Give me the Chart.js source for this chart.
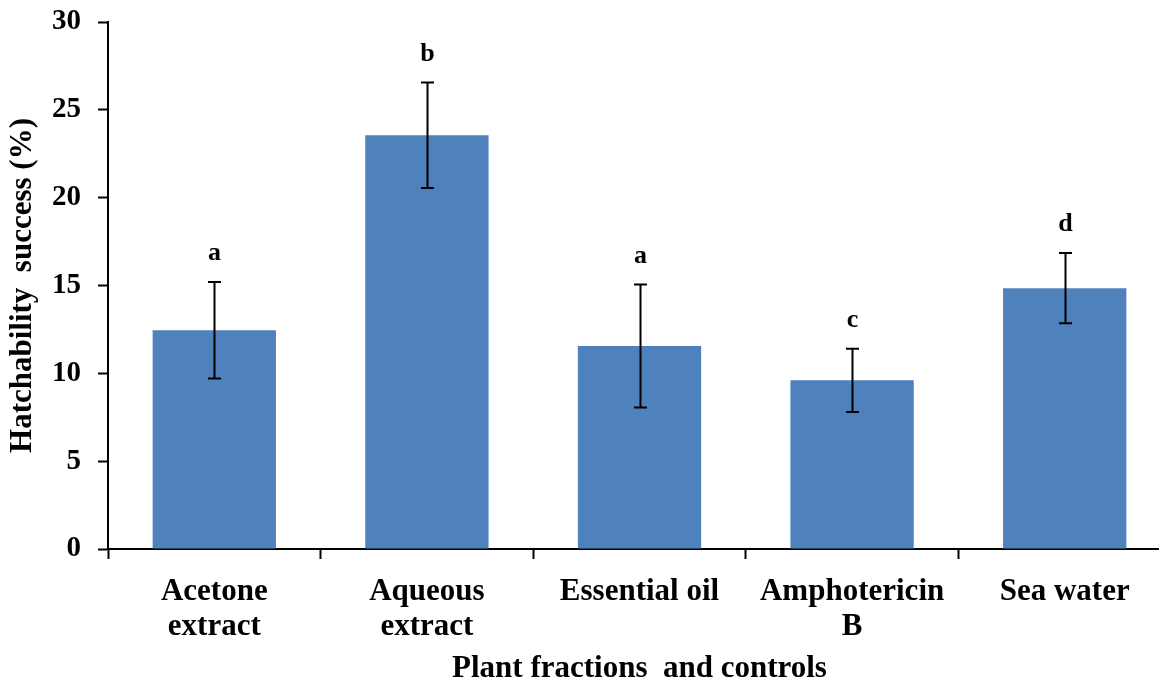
<!DOCTYPE html>
<html>
<head>
<meta charset="utf-8">
<script src="https://cdn.jsdelivr.net/npm/chart.js@4/dist/chart.umd.min.js"></script>
<style>
html,body{margin:0;padding:0;background:#fff;overflow:hidden;}
#wrap{width:1159px;height:685px;}
</style>
</head>
<body>
<div id="wrap"><canvas id="c" width="1159" height="685"></canvas></div>
<script>
const categories = [['Acetone','extract'], ['Aqueous','extract'], ['Essential oil'], ['Amphotericin','B'], ['Sea water']];
const hatchability = [12.45, 23.55, 11.55, 9.6, 14.85];
const errors = [2.75, 3.0, 3.5, 1.8, 2.0];
const letters = ['a', 'b', 'a', 'c', 'd'];
const yTicks = [0, 5, 10, 15, 20, 25, 30];

const FONT = "'Liberation Serif', 'Times New Roman', serif";

// Extend plot area like the reference (axis runs off the right edge, top at 30 mark)
const areaPlugin = {
  id: 'area',
  afterLayout(chart) {
    const x = chart.scales.x, y = chart.scales.y;
    x.right = 1171; x.width = x.right - x.left; x.configure();
    y.top = 22; y.height = y.bottom - y.top; y.configure();
    chart.chartArea.right = 1171; chart.chartArea.width = chart.chartArea.right - chart.chartArea.left;
    chart.chartArea.top = 22; chart.chartArea.height = chart.chartArea.bottom - chart.chartArea.top;
  }
};

const errPlugin = {
  id: 'errbars',
  afterDatasetsDraw(chart) {
    const ctx = chart.ctx;
    const meta = chart.getDatasetMeta(0);
    const y = chart.scales.y;
    ctx.save();
    ctx.strokeStyle = '#000';
    ctx.lineWidth = 2;
    ctx.fillStyle = '#000';
    ctx.font = 'bold 26px ' + FONT;
    ctx.textAlign = 'center';
    ctx.textBaseline = 'alphabetic';
    meta.data.forEach((bar, i) => {
      const x = Math.round(bar.x) + 0.5;
      const top = y.getPixelForValue(hatchability[i] + errors[i]);
      const bot = y.getPixelForValue(hatchability[i] - errors[i]);
      ctx.beginPath();
      ctx.moveTo(x, top); ctx.lineTo(x, bot);
      ctx.moveTo(x - 6.5, top); ctx.lineTo(x + 6.5, top);
      ctx.moveTo(x - 6.5, bot); ctx.lineTo(x + 6.5, bot);
      ctx.stroke();
      ctx.fillText(letters[i], x, top - 22);
    });
    ctx.restore();
  }
};

new Chart(document.getElementById('c'), {
  type: 'bar',
  data: {
    labels: categories,
    datasets: [{
      data: hatchability,
      backgroundColor: '#4F81BD',
      borderWidth: 0,
      categoryPercentage: 0.58,
      barPercentage: 1.0
    }]
  },
  options: {
    responsive: false,
    animation: false,
    devicePixelRatio: 1,
    layout: { padding: { left: 0, right: 0, top: 22, bottom: 0 } },
    plugins: { legend: { display: false }, tooltip: { enabled: false } },
    scales: {
      x: {
        offset: true,
        grid: { display: true, offset: true, drawOnChartArea: false, tickLength: 10, tickColor: '#000', tickWidth: 2 },
        border: { color: '#000', width: 2 },
        ticks: { color: '#000', font: { family: FONT, size: 31, weight: 'bold', lineHeight: 1.12 }, padding: 16, maxRotation: 0, autoSkip: false },
        title: { display: true, text: 'Plant fractions  and controls', color: '#000', font: { family: FONT, size: 31, weight: 'bold' }, padding: { top: 8, bottom: -3 } },
        afterFit(scale) { scale.height = 136; }
      },
      y: {
        min: 0, max: 30,
        afterBuildTicks(scale) { scale.ticks = yTicks.map(v => ({ value: v })); },
        grid: { display: true, drawOnChartArea: false, tickLength: 10, tickColor: '#000', tickWidth: 2 },
        border: { color: '#000', width: 2 },
        ticks: { color: '#000', font: { family: FONT, size: 29, weight: 'bold' }, padding: 17 },
        title: { display: true, text: 'Hatchability  success (%)', color: '#000', font: { family: FONT, size: 31, weight: 'bold' }, padding: { top: 4, bottom: 10 } },
        afterFit(scale) { scale.width = 108; }
      }
    }
  },
  plugins: [areaPlugin, errPlugin]
});
</script>
</body>
</html>
